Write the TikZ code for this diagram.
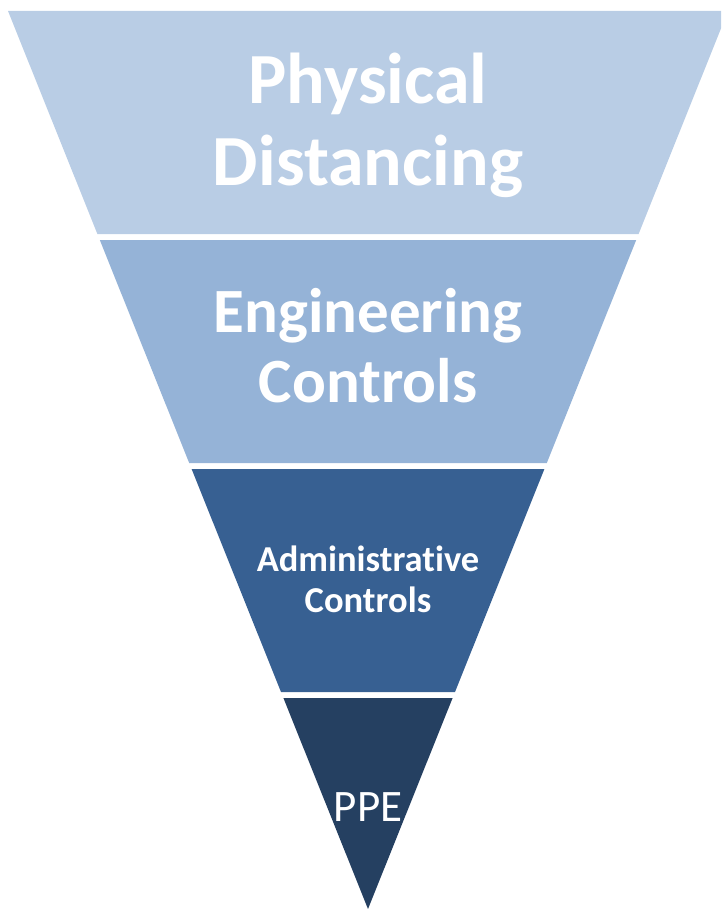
\documentclass[tikz,border=0pt]{standalone}
\usepackage{fontspec}
\setmainfont{Carlito}[Ligatures={NoCommon,NoRare}]
\usepackage{tikz}
\definecolor{bandA}{HTML}{B9CDE5}
\definecolor{bandB}{HTML}{95B3D7}
\definecolor{bandC}{HTML}{376092}
\definecolor{bandD}{HTML}{254061}
\tikzstyle{tier} = [align=center, text=white, inner sep=0pt]

\begin{document}
\begin{tikzpicture}[x=1pt, y=-1pt]
        \useasboundingbox (0,0) rectangle (721,909);
        \clip (0,0) rectangle (721,909);
        % funnel bands, top to bottom
        \fill [bandA] (8,11) -- (728,11) -- (638.6,234) -- (97.4,234) -- cycle;
        \fill [bandB] (99.8,240) -- (636.2,240) -- (546.8,463) -- (189.2,463) -- cycle;
        \fill [bandC] (191.6,469) -- (544.4,469) -- (455,692) -- (281,692) -- cycle;
        \fill [bandD] (283.4,698) -- (452.6,698) -- (368,909) -- cycle;
        \node (phys) [tier, font=\fontsize{72}{82}\selectfont\bfseries] at (368,125) {Physical\\Distancing};
        \node (eng) [tier, font=\fontsize{63}{70}\selectfont\bfseries] at (368,346) {Engineering\\Controls};
        \node (admin) [tier, font=\fontsize{36.5}{41}\selectfont\bfseries] at (368,579) {Administrative\\Controls};
        \node (ppe) [tier, font=\fontsize{45}{54}\selectfont] at (368,807) {PPE};
    \end{tikzpicture}
\end{document}
